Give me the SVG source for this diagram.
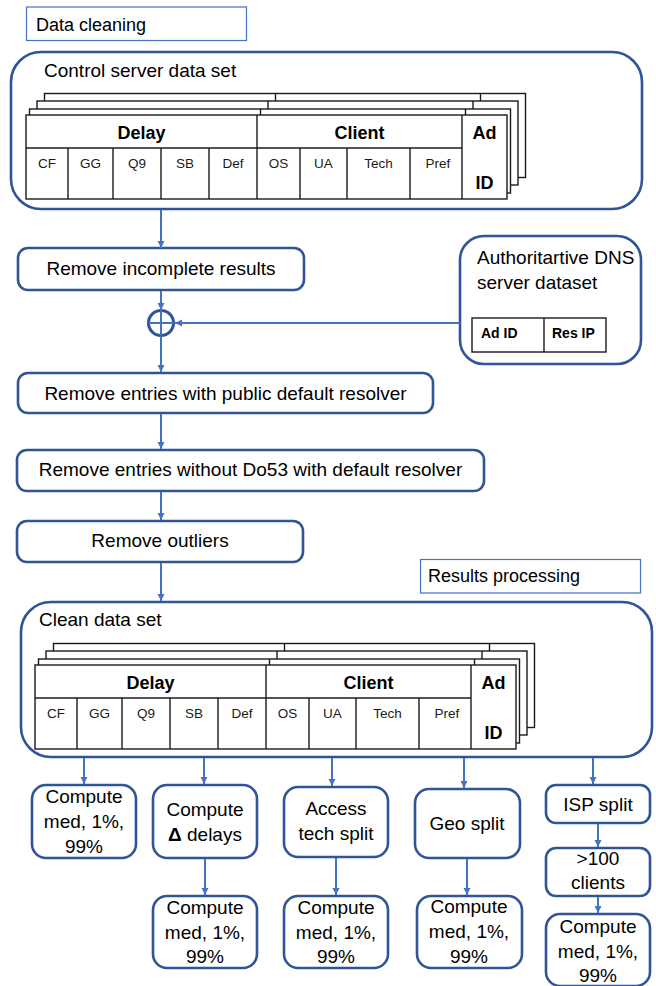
<svg xmlns="http://www.w3.org/2000/svg" xmlns:xlink="http://www.w3.org/1999/xlink" width="656" height="986" viewBox="0 0 656 986">
  <style>
    text { font-family: "Liberation Sans", Arial, sans-serif; fill: #000; }
    .lbl { font-size: 19px; }
    .mid { text-anchor: middle; }
    .hdr { font-size: 18px; font-weight: bold; text-anchor: middle; }
    .col { font-size: 13.5px; text-anchor: middle; fill: #1a1a1a; }
    .cellb { font-size: 14px; font-weight: bold; }
    .frame { fill: none; stroke: #4472C4; stroke-width: 1.2; }
    .big { fill: #fff; stroke: #2F5597; stroke-width: 2.6; }
    .node { fill: #fff; stroke: #2F5597; stroke-width: 2.6; }
    .tbl { fill: #fff; stroke: #1a1a1a; stroke-width: 1.4; }
    .tl { stroke: #1a1a1a; stroke-width: 1.4; }
    .conn { fill: none; stroke: #4472C4; stroke-width: 2; marker-end: url(#arrow); }
    .plain { fill: none; stroke: #4472C4; stroke-width: 2; }
  </style>
  <defs>
    <marker id="arrow" markerUnits="userSpaceOnUse" markerWidth="8" markerHeight="8" refX="7" refY="4" orient="auto">
      <path d="M0,0.5 L7,4 L0,7.5 z" fill="#4472C4"/>
    </marker>
    <!-- one sheet of the record table: header row + column row, Ad ID column on the right -->
    <g id="sheet">
      <rect class="tbl" x="0" y="0" width="481" height="84"/>
      <line class="tl" x1="231" y1="0" x2="231" y2="84"/>
      <line class="tl" x1="436" y1="0" x2="436" y2="84"/>
    </g>
    <g id="data-table">
      <use xlink:href="#sheet" x="18.5" y="-21.5"/>
      <use xlink:href="#sheet" x="11" y="-14"/>
      <use xlink:href="#sheet" x="3.5" y="-6"/>
      <use xlink:href="#sheet" x="0" y="0"/>
      <line class="tl" x1="0" y1="33" x2="436" y2="33"/>
      <line class="tl" x1="42" y1="33" x2="42" y2="84"/>
      <line class="tl" x1="87" y1="33" x2="87" y2="84"/>
      <line class="tl" x1="135" y1="33" x2="135" y2="84"/>
      <line class="tl" x1="183" y1="33" x2="183" y2="84"/>
      <line class="tl" x1="274" y1="33" x2="274" y2="84"/>
      <line class="tl" x1="321" y1="33" x2="321" y2="84"/>
      <line class="tl" x1="384" y1="33" x2="384" y2="84"/>
      <text class="hdr" x="115.5" y="24">Delay</text>
      <text class="hdr" x="333.5" y="24">Client</text>
      <text class="hdr" x="458.5" y="24">Ad</text>
      <text class="hdr" x="458.5" y="74">ID</text>
      <text class="col" x="21" y="53">CF</text>
      <text class="col" x="64.5" y="53">GG</text>
      <text class="col" x="111" y="53">Q9</text>
      <text class="col" x="159" y="53">SB</text>
      <text class="col" x="207" y="53">Def</text>
      <text class="col" x="252.5" y="53">OS</text>
      <text class="col" x="297.5" y="53">UA</text>
      <text class="col" x="352.5" y="53">Tech</text>
      <text class="col" x="412" y="53">Pref</text>
    </g>
  </defs>

  <rect width="656" height="986" fill="#fff"/>

  <!-- section captions -->
  <g id="caption-cleaning">
    <rect class="frame" x="26.5" y="7" width="220" height="33.5"/>
    <text x="36" y="31" style="font-size:18px">Data cleaning</text>
  </g>
  <g id="caption-processing">
    <rect class="frame" x="420.5" y="559.5" width="220" height="33.5"/>
    <text x="428" y="582" style="font-size:18px">Results processing</text>
  </g>

  <!-- data sets -->
  <g id="control-dataset">
    <rect class="big" x="11" y="52" width="631" height="157" rx="30"/>
    <text class="lbl" x="44" y="77">Control server data set</text>
    <use xlink:href="#data-table" x="26" y="115"/>
  </g>

  <g id="dns-dataset">
    <rect class="big" x="460" y="236" width="181" height="128" rx="24"/>
    <text class="lbl" x="477" y="264">Authoritartive DNS</text>
    <text class="lbl" x="477" y="289">server dataset</text>
    <rect class="tbl" x="472" y="318" width="134" height="34"/>
    <line class="tl" x1="544" y1="318" x2="544" y2="352"/>
    <text class="cellb" x="481" y="338">Ad ID</text>
    <text class="cellb" x="552" y="338">Res IP</text>
  </g>

  <g id="clean-dataset">
    <rect class="big" x="21" y="602" width="631" height="155" rx="30"/>
    <text class="lbl" x="39" y="626">Clean data set</text>
    <use xlink:href="#data-table" x="35" y="665"/>
  </g>

  <!-- cleaning steps -->
  <g id="rm-incomplete">
    <rect class="node" x="18" y="248" width="286" height="42" rx="10"/>
    <text class="lbl mid" x="161" y="275">Remove incomplete results</text>
  </g>
  <g id="join">
    <circle cx="161" cy="323" r="12.5" fill="#fff" stroke="#2F5597" stroke-width="3"/>
    <line class="plain" x1="148.5" y1="323" x2="173.5" y2="323"/>
    <line class="plain" x1="161" y1="310.5" x2="161" y2="335.5"/>
  </g>
  <g id="rm-public">
    <rect class="node" x="18" y="373" width="415" height="40" rx="10"/>
    <text class="lbl mid" x="225.5" y="400">Remove entries with public default resolver</text>
  </g>
  <g id="rm-no-do53">
    <rect class="node" x="17" y="450" width="467" height="41" rx="10"/>
    <text class="lbl mid" x="250.5" y="476">Remove entries without Do53 with default resolver</text>
  </g>
  <g id="rm-outliers">
    <rect class="node" x="17" y="521" width="286" height="41" rx="10"/>
    <text class="lbl mid" x="160" y="547">Remove outliers</text>
  </g>

  <!-- processing steps -->
  <g id="stats-all">
    <rect class="node" x="32" y="785" width="104" height="73" rx="14"/>
    <text class="lbl mid" x="84" y="803">Compute</text>
    <text class="lbl mid" x="84" y="828">med, 1%,</text>
    <text class="lbl mid" x="84" y="853">99%</text>
  </g>
  <g id="delta">
    <rect class="node" x="153" y="785" width="104" height="73" rx="14"/>
    <text class="lbl mid" x="205" y="816">Compute</text>
    <text class="lbl mid" x="205" y="841"><tspan font-weight="bold">Δ</tspan> delays</text>
  </g>
  <g id="stats-delta">
    <rect class="node" x="153" y="896" width="104" height="72" rx="14"/>
    <text class="lbl mid" x="205" y="914">Compute</text>
    <text class="lbl mid" x="205" y="939">med, 1%,</text>
    <text class="lbl mid" x="205" y="963">99%</text>
  </g>
  <g id="tech-split">
    <rect class="node" x="284" y="787" width="104" height="70" rx="14"/>
    <text class="lbl mid" x="336" y="815">Access</text>
    <text class="lbl mid" x="336" y="840">tech split</text>
  </g>
  <g id="stats-tech">
    <rect class="node" x="284" y="896" width="104" height="72" rx="14"/>
    <text class="lbl mid" x="336" y="914">Compute</text>
    <text class="lbl mid" x="336" y="939">med, 1%,</text>
    <text class="lbl mid" x="336" y="963">99%</text>
  </g>
  <g id="geo-split">
    <rect class="node" x="415" y="789" width="105" height="69" rx="14"/>
    <text class="lbl mid" x="467" y="830">Geo split</text>
  </g>
  <g id="stats-geo">
    <rect class="node" x="417" y="896" width="105" height="72" rx="14"/>
    <text class="lbl mid" x="469" y="913">Compute</text>
    <text class="lbl mid" x="469" y="938">med, 1%,</text>
    <text class="lbl mid" x="469" y="963">99%</text>
  </g>
  <g id="isp-split">
    <rect class="node" x="546" y="785" width="104" height="38" rx="10"/>
    <text class="lbl mid" x="598" y="811">ISP split</text>
  </g>
  <g id="isp-filter">
    <rect class="node" x="546" y="848" width="104" height="48" rx="10"/>
    <text class="lbl mid" x="598" y="865">&gt;100</text>
    <text class="lbl mid" x="598" y="889">clients</text>
  </g>
  <g id="stats-isp">
    <rect class="node" x="546" y="914" width="104" height="72" rx="14"/>
    <text class="lbl mid" x="598" y="933">Compute</text>
    <text class="lbl mid" x="598" y="958">med, 1%,</text>
    <text class="lbl mid" x="598" y="982">99%</text>
  </g>

  <!-- connectors -->
  <g id="connectors">
    <line class="conn" x1="161" y1="210" x2="161" y2="248"/>
    <line class="conn" x1="161" y1="291" x2="161" y2="310"/>
    <line class="conn" x1="460" y1="323" x2="175" y2="323"/>
    <line class="conn" x1="161" y1="336" x2="161" y2="372"/>
    <line class="conn" x1="161" y1="414" x2="161" y2="449"/>
    <line class="conn" x1="161" y1="492" x2="161" y2="520"/>
    <line class="conn" x1="161" y1="563" x2="161" y2="601"/>
    <line class="conn" x1="84" y1="758" x2="84" y2="784"/>
    <line class="conn" x1="204" y1="758" x2="204" y2="784"/>
    <line class="conn" x1="332" y1="758" x2="332" y2="786"/>
    <line class="conn" x1="464" y1="758" x2="464" y2="788"/>
    <line class="conn" x1="593" y1="758" x2="593" y2="784"/>
    <line class="conn" x1="205" y1="859" x2="205" y2="895"/>
    <line class="conn" x1="336" y1="858" x2="336" y2="895"/>
    <line class="conn" x1="467" y1="859" x2="467" y2="895"/>
    <line class="conn" x1="598" y1="824" x2="598" y2="847"/>
    <line class="conn" x1="598" y1="897" x2="598" y2="913"/>
  </g>
</svg>
